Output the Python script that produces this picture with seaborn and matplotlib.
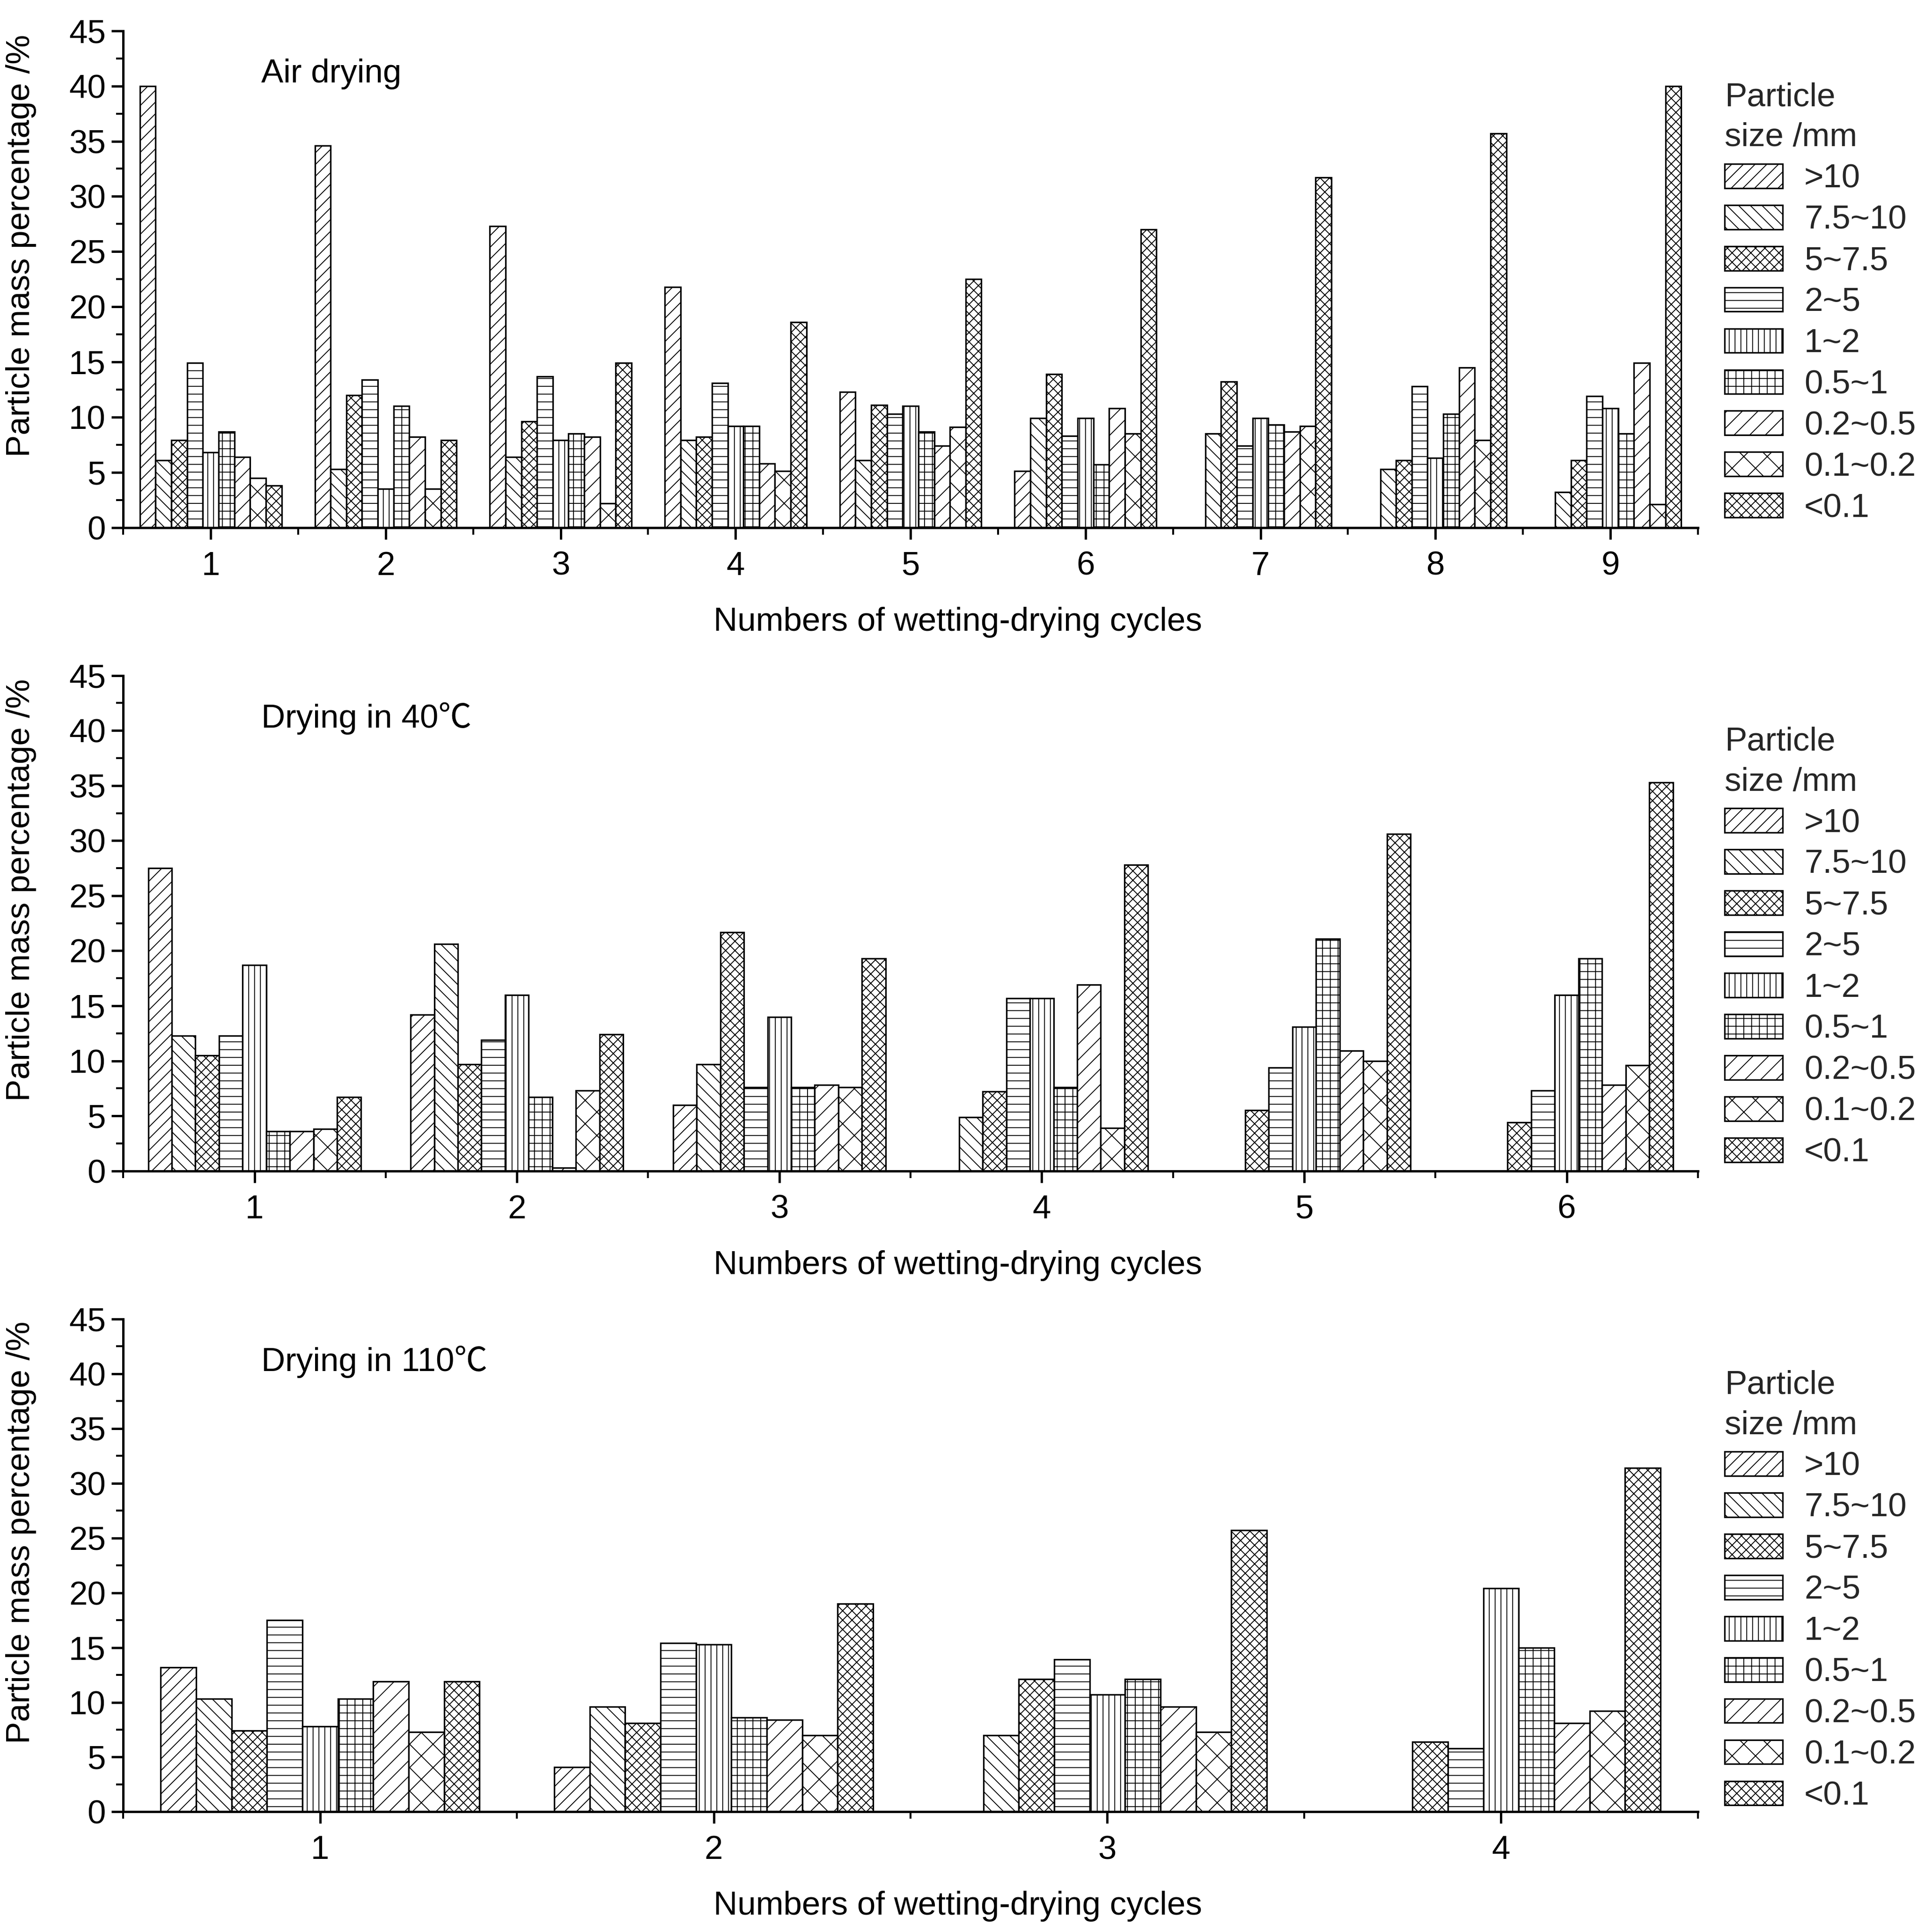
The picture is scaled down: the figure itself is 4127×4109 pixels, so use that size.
import numpy as np
import pandas as pd
import matplotlib
matplotlib.use("Agg")
import matplotlib.pyplot as plt
from matplotlib.patches import Patch
from matplotlib.ticker import AutoMinorLocator, FixedLocator
import seaborn as sns

sns.set_theme(style="white")
plt.rcParams['font.family'] = ['Liberation Sans', 'Noto Sans CJK SC', 'DejaVu Sans']
plt.rcParams['hatch.linewidth'] = 0.45
plt.rcParams['hatch.color'] = 'black'

# ---------------- data ----------------
sizes = [">10", "7.5~10", "5~7.5", "2~5", "1~2", "0.5~1", "0.2~0.5", "0.1~0.2", "<0.1"]
hatches = ["////", "\\\\\\\\", "xxxxx", "---", "||||", "+++", "///", "xx", "xxxxx"]

# Air drying, cycles 1..9 (values in size order)
air_c1 = [40.0, 6.1, 7.9, 14.9, 6.8, 8.7, 6.4, 4.5, 3.8]
air_c2 = [34.6, 5.3, 12.0, 13.4, 3.5, 11.0, 8.2, 3.5, 7.9]
air_c3 = [27.3, 6.4, 9.6, 13.7, 7.9, 8.5, 8.2, 2.2, 14.9]
air_c4 = [21.8, 7.9, 8.2, 13.1, 9.2, 9.2, 5.8, 5.1, 18.6]
air_c5 = [12.3, 6.1, 11.1, 10.3, 11.0, 8.7, 7.4, 9.1, 22.5]
air_c6 = [5.1, 9.9, 13.9, 8.3, 9.9, 5.7, 10.8, 8.5, 27.0]
air_c7 = [0.0, 8.5, 13.2, 7.4, 9.9, 9.3, 8.7, 9.2, 31.7]
air_c8 = [0.0, 5.3, 6.1, 12.8, 6.3, 10.3, 14.5, 7.9, 35.7]
air_c9 = [0.0, 3.2, 6.1, 11.9, 10.8, 8.5, 14.9, 2.1, 40.0]

# Drying in 40 C, cycles 1..6
d40_c1 = [27.5, 12.3, 10.5, 12.3, 18.7, 3.6, 3.6, 3.8, 6.7]
d40_c2 = [14.2, 20.6, 9.7, 11.9, 16.0, 6.7, 0.3, 7.3, 12.4]
d40_c3 = [6.0, 9.7, 21.7, 7.6, 14.0, 7.6, 7.8, 7.6, 19.3]
d40_c4 = [0.0, 4.9, 7.2, 15.7, 15.7, 7.6, 16.9, 3.9, 27.8]
d40_c5 = [0.0, 0.0, 5.5, 9.4, 13.1, 21.1, 10.9, 10.0, 30.6]
d40_c6 = [0.0, 0.0, 4.4, 7.3, 16.0, 19.3, 7.8, 9.6, 35.3]

# Drying in 110 C, cycles 1..4
d110_c1 = [13.2, 10.3, 7.4, 17.5, 7.8, 10.3, 11.9, 7.3, 11.9]
d110_c2 = [4.1, 9.6, 8.1, 15.4, 15.3, 8.6, 8.4, 7.0, 19.0]
d110_c3 = [0.0, 7.0, 12.1, 13.9, 10.7, 12.1, 9.6, 7.3, 25.7]
d110_c4 = [0.0, 0.0, 6.4, 5.8, 20.4, 15.0, 8.1, 9.2, 31.4]

panels = [
    ("Air drying", [air_c1, air_c2, air_c3, air_c4, air_c5, air_c6, air_c7, air_c8, air_c9]),
    ("Drying in 40\u2103", [d40_c1, d40_c2, d40_c3, d40_c4, d40_c5, d40_c6]),
    ("Drying in 110\u2103", [d110_c1, d110_c2, d110_c3, d110_c4]),
]

# ---------------- figure ----------------
W, H = 4127, 4109
DPI = 300
fig = plt.figure(figsize=(W / DPI, H / DPI), dpi=DPI)
fig.patch.set_facecolor('white')

rects = [
    (0.0638, 0.7258, 0.815, 0.2582),
    (0.0638, 0.3914, 0.815, 0.2575),
    (0.0638, 0.0583, 0.815, 0.2562),
]

FS = 17
for (title, cycles), rect in zip(panels, rects):
    ax = fig.add_axes(rect)
    rows = []
    for ci, vals in enumerate(cycles):
        for s, v in zip(sizes, vals):
            rows.append({"cycle": str(ci + 1), "size": s, "value": v})
    df = pd.DataFrame(rows)
    n = len(cycles)
    sns.barplot(data=df, x="cycle", y="value", hue="size", hue_order=sizes,
                order=[str(i + 1) for i in range(n)],
                palette={s: "white" for s in sizes}, saturation=1,
                errorbar=None, edgecolor="black", linewidth=0.8,
                width=0.81, legend=False, ax=ax)
    for cont, h in zip(ax.containers, hatches):
        for bar in cont:
            bar.set_hatch(h)
            bar.set_facecolor("white")
            bar.set_edgecolor("black")

    ax.set_xlim(-0.5, n - 0.5)
    ax.set_ylim(0, 45)
    ax.set_yticks(np.arange(0, 46, 5))
    ax.yaxis.set_minor_locator(AutoMinorLocator(2))
    ax.xaxis.set_minor_locator(FixedLocator(np.arange(-0.5, n, 1.0)))
    for sp in ["top", "right"]:
        ax.spines[sp].set_visible(False)
    for sp in ["left", "bottom"]:
        ax.spines[sp].set_linewidth(1.2)
        ax.spines[sp].set_color("black")
    ax.tick_params(axis="both", which="major", direction="out", length=6, width=1.2,
                   labelsize=FS, colors="black", left=True, bottom=True)
    ax.tick_params(axis="both", which="minor", direction="out", length=3.5, width=1.0,
                   left=True, bottom=True, colors="black")
    ax.tick_params(axis="x", which="major", pad=6)
    ax.tick_params(axis="y", which="major", pad=3)
    ax.set_xlabel("Numbers of wetting-drying cycles", fontsize=FS, color="black")
    ax.set_ylabel("Particle mass percentage /%", fontsize=FS, color="black")
    ax.xaxis.set_label_coords(0.53, -0.16)
    ax.yaxis.set_label_coords(-0.055, 0.567)
    ax.grid(False)
    ax.set_facecolor("white")

    ax.text(0.0876, 0.913, title, transform=ax.transAxes, ha="left", va="center",
            fontsize=FS, color="black")

    handles = [Patch(facecolor="white", edgecolor="black", hatch=h, linewidth=0.8)
               for h in hatches]
    leg = ax.legend(handles, sizes, title="Particle\nsize /mm", loc="upper left",
                    bbox_to_anchor=(1.017, 0.897), frameon=False, fontsize=FS,
                    title_fontsize=FS, alignment="left", borderpad=0,
                    borderaxespad=0, handlelength=1.75, handleheight=0.75,
                    handletextpad=0.65, labelspacing=0.31)
    leg.get_title().set_linespacing(1.4)

fig.savefig("out.png", dpi=DPI, facecolor="white")
